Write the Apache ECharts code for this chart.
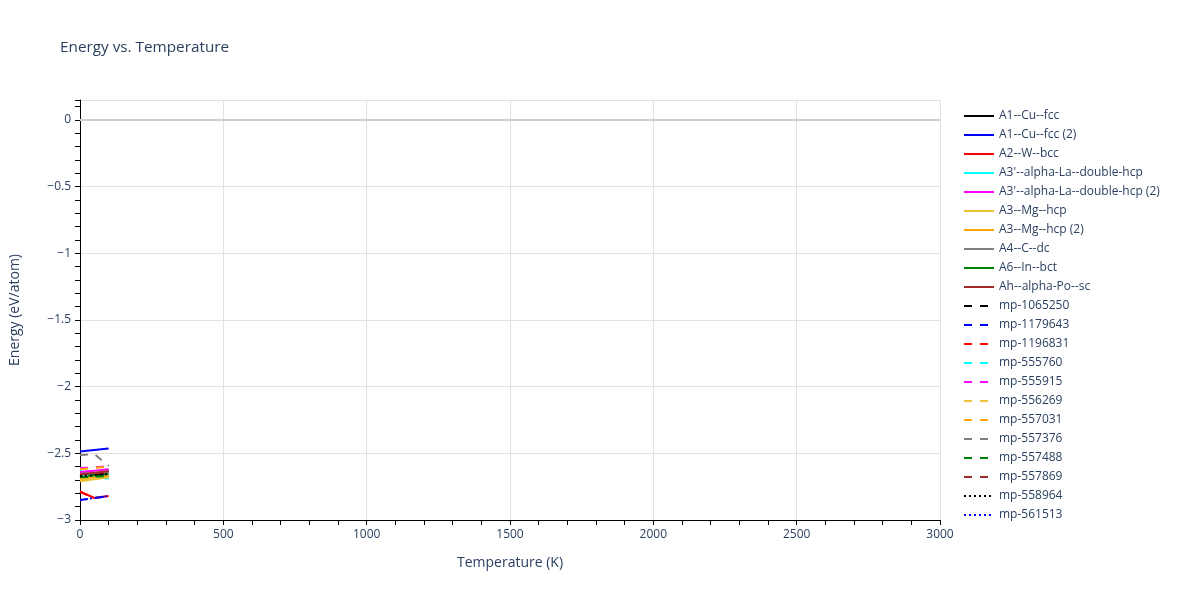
<!DOCTYPE html>
<html>
<head>
<meta charset="utf-8">
<script src="https://cdn.jsdelivr.net/npm/echarts@6/dist/echarts.min.js"></script>
<style>html,body{margin:0;padding:0;background:#fff;}#c{width:1200px;height:600px;}</style>
</head>
<body>
<div id="c"></div>
<script>
const temps = [0, 50, 100];
const names = ["A1--Cu--fcc","A1--Cu--fcc (2)","A2--W--bcc","A3'--alpha-La--double-hcp","A3'--alpha-La--double-hcp (2)","A3--Mg--hcp","A3--Mg--hcp (2)","A4--C--dc","A6--In--bct","Ah--alpha-Po--sc","mp-1065250","mp-1179643","mp-1196831","mp-555760","mp-555915","mp-556269","mp-557031","mp-557376","mp-557488","mp-557869","mp-558964","mp-561513"];
const energies = [
  [-2.675, -2.655, -2.635],
  [-2.487, -2.475, -2.463],
  [-2.785, -2.835, -2.82],
  [-2.63, -2.675, -2.69],
  [-2.64, -2.63, -2.62],
  [-2.71, -2.695, -2.68],
  [-2.69, -2.68, -2.67],
  [-2.66, -2.65, -2.64],
  [-2.675, -2.665, -2.655],
  [-2.655, -2.645, -2.635],
  [-2.67, -2.66, -2.65],
  [-2.85, -2.835, -2.82],
  [-2.79, -2.835, -2.82],
  [-2.66, -2.675, -2.685],
  [-2.61, -2.605, -2.595],
  [-2.70, -2.69, -2.68],
  [-2.62, -2.61, -2.60],
  [-2.515, -2.505, -2.595],
  [-2.68, -2.675, -2.67],
  [-2.66, -2.65, -2.64],
  [-2.67, -2.665, -2.655],
  [-2.85, -2.835, -2.82]
];
const colors = ["#000000","#0000ff","#ff0000","#00ffff","#ff00ff","#ebc331","#ffa500","#808080","#008000","#a52a2a","#000000","#0000ff","#ff0000","#00ffff","#ff00ff","#ebc331","#ffa500","#808080","#008000","#a52a2a","#000000","#0000ff"];
const dashes = ["solid","solid","solid","solid","solid","solid","solid","solid","solid","solid","dash","dash","dash","dash","dash","dash","dash","dash","dash","dash","dot","dot"];

const fmt = v => (v < 0 ? '\u2212' + String(-v) : String(v));
const series = names.map((n, i) => ({
  name: n,
  type: 'line',
  symbol: 'none',
  showSymbol: false,
  data: temps.map((t, k) => [t, energies[i][k]]),
  lineStyle: {
    color: colors[i], width: 2,
    type: dashes[i] === 'solid' ? 'solid' : (dashes[i] === 'dash' ? [8, 8] : [2, 3])
  },
  itemStyle: { color: colors[i] },
  z: colors[i] === '#0000ff' ? 40 + i : 3 + i
}));
series[0].markLine = {
  silent: true, symbol: 'none', label: { show: false },
  lineStyle: { color: '#cfcfcf', width: 2, type: 'solid' },
  data: [{ yAxis: 0 }]
};

const chart = echarts.init(document.getElementById('c'));
chart.setOption({
  animation: false,
  textStyle: { fontFamily: 'Open Sans' },
  title: {
    text: 'Energy vs. Temperature', left: 55, top: 35,
    textStyle: { fontFamily: 'Open Sans', fontSize: 15.3, fontWeight: 'normal', color: '#2a3f5f' }
  },
  legend: {
    orient: 'vertical', left: 958, top: 105,
    itemWidth: 30, itemHeight: 12, itemGap: 7,
    itemStyle: { opacity: 0 },
    textStyle: { fontFamily: 'Open Sans', fontSize: 12, color: '#2a3f5f' },
    data: names
  },
  grid: { left: 80, right: 260, top: 100, bottom: 80, containLabel: false, outerBoundsMode: 'none' },
  xAxis: {
    type: 'value', min: 0, max: 3000, interval: 500,
    name: 'Temperature (K)', nameLocation: 'middle', nameGap: 36,
    nameTextStyle: { fontFamily: 'Open Sans', fontSize: 14, color: '#2a3f5f' },
    axisLine: { show: true, onZero: false, lineStyle: { color: '#000', width: 1 } },
    axisTick: { show: true, length: 5, lineStyle: { color: '#000' } },
    minorTick: { show: true, splitNumber: 5, length: 5, lineStyle: { color: '#000' } },
    axisLabel: { color: '#2a3f5f', fontSize: 12, margin: 9, formatter: v => String(v) },
    splitLine: { show: true, lineStyle: { color: '#e1e1e1', width: 1 } }
  },
  yAxis: {
    type: 'value', min: -3, max: 0.15, interval: 0.5,
    name: 'Energy (eV/atom)', nameLocation: 'middle', nameGap: 58,
    nameTextStyle: { fontFamily: 'Open Sans', fontSize: 14, color: '#2a3f5f' },
    axisLine: { show: true, onZero: false, lineStyle: { color: '#000', width: 1 } },
    axisTick: { show: true, length: 5, lineStyle: { color: '#000' } },
    minorTick: { show: true, splitNumber: 5, length: 5, lineStyle: { color: '#000' } },
    axisLabel: { color: '#2a3f5f', fontSize: 12, margin: 9, showMaxLabel: false, formatter: fmt },
    splitLine: { show: true, lineStyle: { color: '#e1e1e1', width: 1 } }
  },
  series: series
});
</script>
</body>
</html>
